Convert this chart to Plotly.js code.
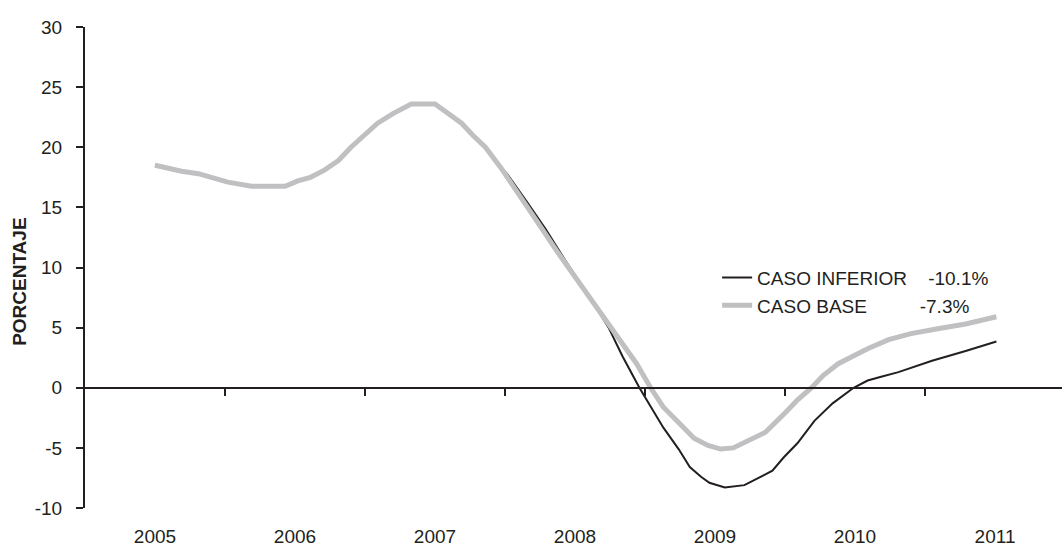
<!DOCTYPE html>
<html>
<head>
<meta charset="utf-8">
<script src="https://cdn.plot.ly/plotly-3.0.1.min.js"></script>
<style>html,body{margin:0;padding:0;background:#fff;}#chart{width:1062px;height:548px;}</style>
</head>
<body>
<div id="chart"></div>
<script>
// Year tick labels (centred in each year) and year boundaries
const yearLabels = ["2005", "2006", "2007", "2008", "2009", "2010", "2011"];
const yearCentres = [2005.5, 2006.5, 2007.5, 2008.5, 2009.5, 2010.5, 2011.5];
const yearBounds = [2006, 2007, 2008, 2009, 2010, 2011];

// Y tick values and labels (plain hyphen for negatives, as in the original)
const yTickVals = [-10, -5, 0, 5, 10, 15, 20, 25, 30];
const yTickText = ["-10", "-5", "0", "5", "10", "15", "20", "25", "30"];

// CASO BASE (fractional year, %)
const baseX = [2005.50, 2005.69, 2005.81, 2006.02, 2006.19, 2006.43, 2006.52, 2006.61, 2006.71, 2006.81,
  2006.90, 2006.99, 2007.09, 2007.20, 2007.33, 2007.50, 2007.59, 2007.69, 2007.77, 2007.86,
  2007.97, 2008.06, 2008.14, 2008.26, 2008.38, 2008.52, 2008.61, 2008.71, 2008.82, 2008.94,
  2009.04, 2009.13, 2009.24, 2009.35, 2009.45, 2009.54, 2009.63, 2009.72, 2009.86, 2010.00,
  2010.09, 2010.19, 2010.27, 2010.38, 2010.49, 2010.59, 2010.74, 2010.90, 2011.09, 2011.29, 2011.51];
const baseY = [18.5, 18.0, 17.8, 17.1, 16.75, 16.75, 17.2, 17.5, 18.1, 18.9,
  20.0, 20.9, 22.0, 22.8, 23.6, 23.6, 22.9, 22.0, 21.0, 20.0,
  18.3, 16.8, 15.3, 13.3, 11.2, 8.9, 7.3, 5.6, 3.8, 2.0,
  0.0, -1.6, -2.9, -4.2, -4.8, -5.1, -5.0, -4.5, -3.7, -2.1,
  -1.0, 0.0, 1.0, 2.0, 2.7, 3.25, 4.0, 4.5, 4.9, 5.3, 5.9];

// CASO INFERIOR (fractional year, %)
const infX = [2005.50, 2005.69, 2005.81, 2006.02, 2006.19, 2006.43, 2006.52, 2006.61, 2006.71, 2006.81,
  2006.90, 2006.99, 2007.09, 2007.20, 2007.33, 2007.50, 2007.59, 2007.69, 2007.77, 2007.86,
  2007.90, 2008.02, 2008.16, 2008.29, 2008.43, 2008.59, 2008.74, 2008.84, 2008.96, 2009.04,
  2009.13, 2009.24, 2009.32, 2009.40, 2009.46, 2009.57, 2009.71, 2009.86, 2009.91, 2009.99,
  2010.09, 2010.21, 2010.34, 2010.49, 2010.59, 2010.68, 2010.81, 2011.05, 2011.29, 2011.51];
const infY = [18.5, 18.0, 17.8, 17.1, 16.75, 16.75, 17.2, 17.5, 18.1, 18.9,
  20.0, 20.9, 22.0, 22.8, 23.6, 23.6, 22.9, 22.0, 21.0, 20.0,
  19.3, 17.7, 15.4, 13.2, 10.6, 7.8, 5.0, 2.6, 0.0, -1.6,
  -3.3, -5.1, -6.6, -7.4, -7.9, -8.3, -8.1, -7.2, -6.9, -5.8,
  -4.6, -2.75, -1.3, 0.0, 0.6, 0.9, 1.3, 2.25, 3.05, 3.85];

const NB = "\u00a0";
const seriesNames = ["CASO INFERIOR" + NB.repeat(4) + "-10.1%", "CASO BASE" + NB.repeat(10) + "-7.3%"];
const yTitle = "PORCENTAJE";

const FONT = "Liberation Sans, Arial, sans-serif";
const INK = "#231f20";
const FS = 19;
const xRange = [2005, 2011.9785];

const traces = [
  {x: infX, y: infY, name: seriesNames[0], type: "scatter", mode: "lines",
   line: {color: INK, width: 2}, xaxis: "x", yaxis: "y", legend: "legend"},
  {x: baseX, y: baseY, name: seriesNames[1], type: "scatter", mode: "lines",
   line: {color: "#c0c0c2", width: 5}, xaxis: "x2", yaxis: "y", legend: "legend2"}
];

const legendCommon = {xanchor: "left", yanchor: "middle", bgcolor: "rgba(0,0,0,0)",
  font: {family: FONT, size: FS, color: INK}};

const layout = {
  width: 1062, height: 548,
  margin: {l: 85, r: 0, t: 27, b: 40, pad: 0},
  paper_bgcolor: "#fff", plot_bgcolor: "#fff",
  font: {family: FONT, size: FS, color: INK},
  showlegend: true,
  legend: Object.assign({x: 0.647, y: 0.479}, legendCommon),
  legend2: Object.assign({x: 0.647, y: 0.421}, legendCommon),
  xaxis: {range: xRange, showline: false, showgrid: false, zeroline: false, ticks: "",
          tickvals: yearCentres, ticktext: yearLabels, tickfont: {size: FS, color: INK},
          ticklabelstandoff: 15, fixedrange: true},
  xaxis2: {range: xRange, overlaying: "x", anchor: "free", position: 0.25, side: "bottom",
           showline: true, linecolor: INK, linewidth: 2, showgrid: false, zeroline: false,
           ticks: "outside", ticklen: 7, tickwidth: 2, tickcolor: INK,
           tickvals: yearBounds, showticklabels: false, fixedrange: true},
  yaxis: {range: [-10, 30], tickvals: yTickVals, ticktext: yTickText, showline: true, linecolor: INK, linewidth: 2,
          showgrid: false, zeroline: false, ticks: "outside", ticklen: 7, tickwidth: 2, tickcolor: INK,
          tickfont: {size: FS, color: INK}, ticklabelstandoff: 10, fixedrange: true},
  annotations: [{text: "<b>" + yTitle + "</b>", xref: "paper", yref: "paper", x: -0.0666, y: 0.47,
                 xanchor: "center", yanchor: "middle", textangle: -90, showarrow: false,
                 font: {family: FONT, size: FS, color: INK}}]
};

Plotly.newPlot("chart", traces, layout, {displayModeBar: false, staticPlot: true});
</script>
</body>
</html>
